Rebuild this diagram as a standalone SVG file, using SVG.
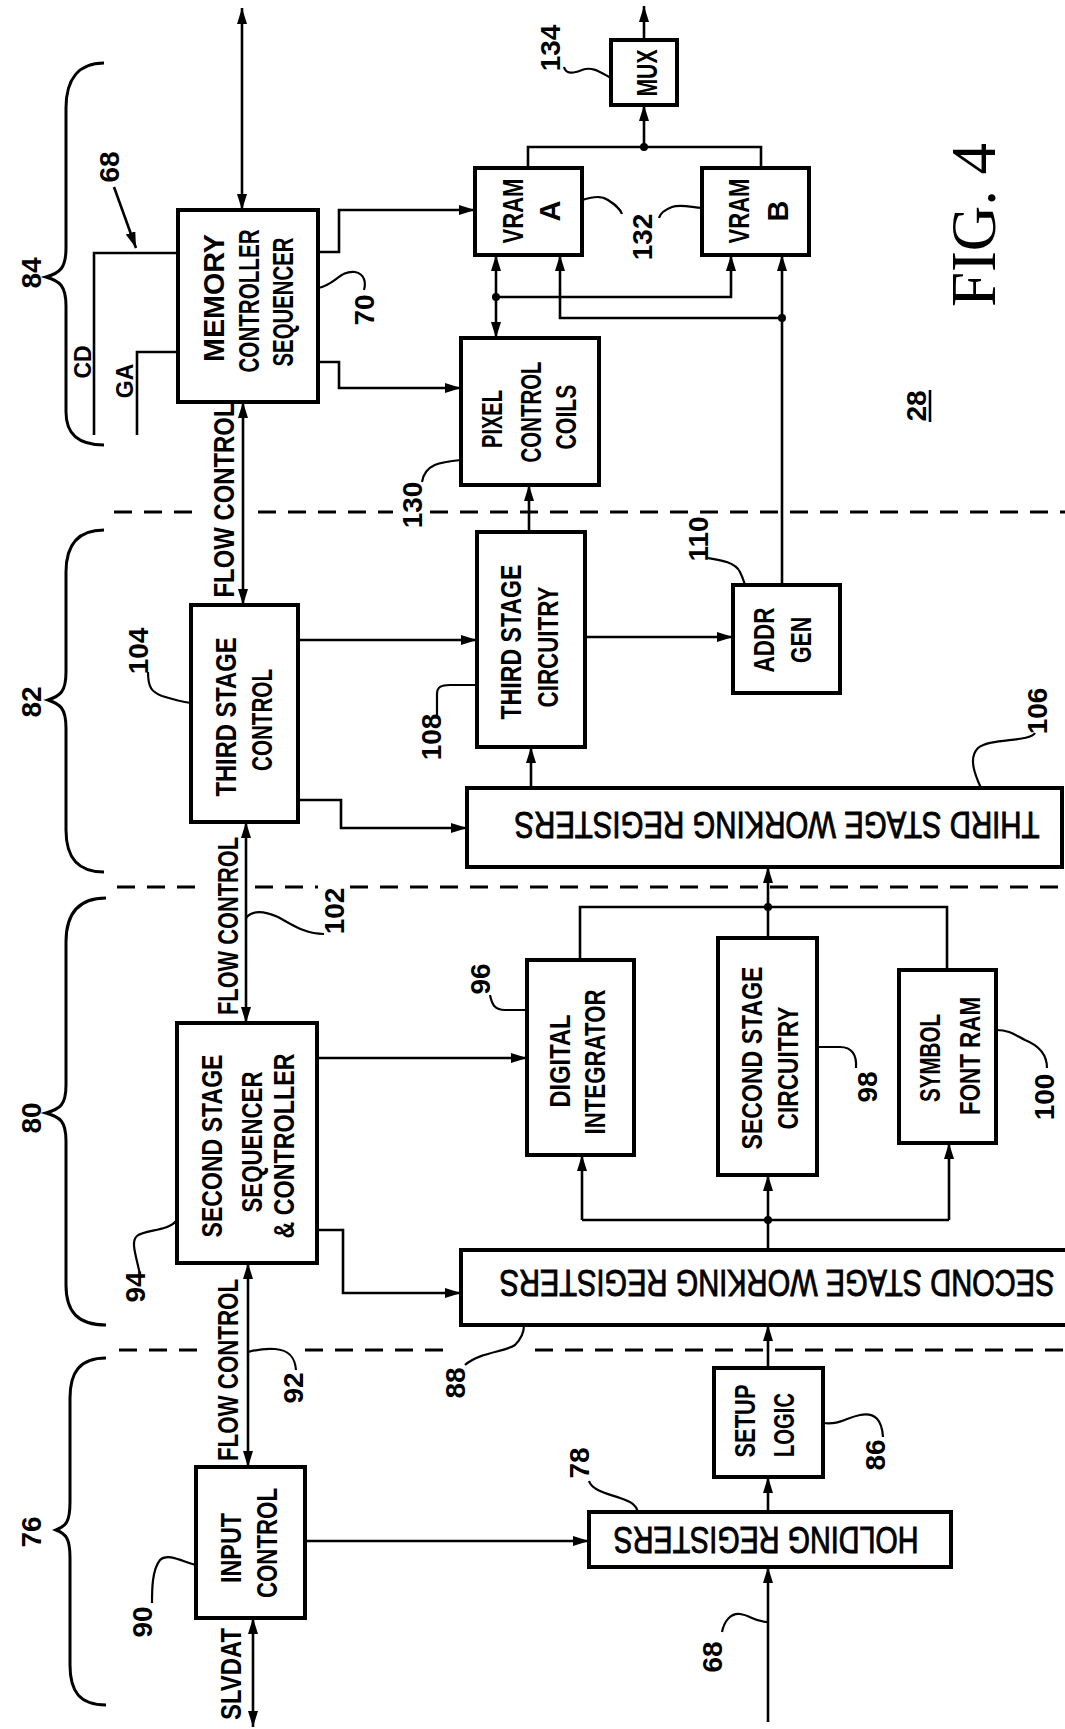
<svg xmlns="http://www.w3.org/2000/svg" width="1065" height="1729" viewBox="0 0 1065 1729">
<style>
.box{fill:#fff;stroke:#000;stroke-width:4}
.ln{fill:none;stroke:#000;stroke-width:2.6}
.ld{fill:none;stroke:#000;stroke-width:2.2}
.dash{fill:none;stroke:#000;stroke-width:3.2;stroke-dasharray:18 12}
.br{fill:none;stroke:#000;stroke-width:3}
.t{font-family:"Liberation Sans",Arial,sans-serif;font-weight:bold;font-size:29px;text-anchor:middle;fill:#000}
.n{font-family:"Liberation Sans",Arial,sans-serif;font-weight:bold;font-size:28px;text-anchor:middle;fill:#000}
.s{font-family:"Liberation Sans",Arial,sans-serif;font-weight:bold;font-size:23px;text-anchor:middle;fill:#000}
.r{font-family:"Liberation Sans",Arial,sans-serif;font-weight:normal;font-size:36px;text-anchor:middle;fill:#000;stroke:#000;stroke-width:0.9}
.fig{font-family:"Liberation Serif","Times New Roman",serif;font-size:64px;text-anchor:middle;fill:#000}
.dot{fill:#000}
</style>
<defs>
<marker id="ah" viewBox="0 0 16 10" refX="16" refY="5" markerWidth="16" markerHeight="10" markerUnits="userSpaceOnUse" orient="auto-start-reverse"><path d="M0,0 L16,5 L0,10 z" fill="#000"/></marker>
</defs>

<g id="dividers">
<path class="dash" d="M114,512 H203 M258,512 H393 M430,512 H1065"/>
<path class="dash" d="M117,887 H200 M255,887 H318 M350,887 H1065"/>
<path class="dash" d="M119,1350 H198 M305,1350 H452 M535,1350 H1065"/>
</g>

<g id="braces">
<path class="br" d="M104,63 C78,63 66,80 66,108 L66,248 C66,268 60,273 46,277 C60,281 66,286 66,306 L66,412 C66,434 78,445 104,445"/>
<path class="br" d="M104,530 C78,530 66,545 66,572 L66,672 C66,692 60,696 48,700 C60,704 66,708 66,728 L66,830 C66,858 78,872 104,872"/>
<path class="br" d="M106,898 C78,898 66,914 66,942 L66,1085 C66,1105 60,1109 46,1113 C60,1117 66,1121 66,1141 L66,1285 C66,1312 78,1325 106,1325"/>
<path class="br" d="M106,1358 C80,1358 70,1372 70,1398 L70,1502 C70,1522 66,1526 56,1530 C66,1534 70,1538 70,1558 L70,1665 C70,1692 80,1705 106,1705"/>
<text class="n" transform="translate(41,273) rotate(-90)">84</text>
<text class="n" transform="translate(41,702) rotate(-90)">82</text>
<text class="n" transform="translate(41,1118) rotate(-90)">80</text>
<text class="n" transform="translate(41,1532) rotate(-90)">76</text>
</g>

<g id="mc">
<rect class="box" x="178" y="210" width="140" height="192"/>
<text class="t" transform="translate(224,298) rotate(-90)" textLength="128" lengthAdjust="spacingAndGlyphs">MEMORY</text>
<text class="t" transform="translate(259,301) rotate(-90)" textLength="143" lengthAdjust="spacingAndGlyphs">CONTROLLER</text>
<text class="t" transform="translate(293,302) rotate(-90)" textLength="129" lengthAdjust="spacingAndGlyphs">SEQUENCER</text>
</g>
<g id="vramA">
<rect class="box" x="475" y="168" width="107" height="87"/>
<text class="t" transform="translate(523,211) rotate(-90)" textLength="65" lengthAdjust="spacingAndGlyphs">VRAM</text>
<text class="t" transform="translate(560,211) rotate(-90)">A</text>
</g>
<g id="vramB">
<rect class="box" x="702" y="168" width="107" height="87"/>
<text class="t" transform="translate(749,211) rotate(-90)" textLength="65" lengthAdjust="spacingAndGlyphs">VRAM</text>
<text class="t" transform="translate(788,211) rotate(-90)">B</text>
</g>
<g id="mux">
<rect class="box" x="611" y="40" width="66" height="65"/>
<text class="t" transform="translate(657,73) rotate(-90)" textLength="47" lengthAdjust="spacingAndGlyphs">MUX</text>
</g>
<g id="pcc">
<rect class="box" x="461" y="338" width="138" height="147"/>
<text class="t" transform="translate(502,419) rotate(-90)" textLength="58" lengthAdjust="spacingAndGlyphs">PIXEL</text>
<text class="t" transform="translate(541,412) rotate(-90)" textLength="101" lengthAdjust="spacingAndGlyphs">CONTROL</text>
<text class="t" transform="translate(576,417) rotate(-90)" textLength="65" lengthAdjust="spacingAndGlyphs">COILS</text>
</g>
<g id="tsc">
<rect class="box" x="191" y="605" width="107" height="217"/>
<text class="t" transform="translate(236,717) rotate(-90)" textLength="159" lengthAdjust="spacingAndGlyphs">THIRD STAGE</text>
<text class="t" transform="translate(272,720) rotate(-90)" textLength="102" lengthAdjust="spacingAndGlyphs">CONTROL</text>
</g>
<g id="tscirc">
<rect class="box" x="477" y="532" width="108" height="215"/>
<text class="t" transform="translate(521,642) rotate(-90)" textLength="155" lengthAdjust="spacingAndGlyphs">THIRD STAGE</text>
<text class="t" transform="translate(558,647) rotate(-90)" textLength="121" lengthAdjust="spacingAndGlyphs">CIRCUITRY</text>
</g>
<g id="addr">
<rect class="box" x="733" y="585" width="107" height="108"/>
<text class="t" transform="translate(774,640) rotate(-90)" textLength="65" lengthAdjust="spacingAndGlyphs">ADDR</text>
<text class="t" transform="translate(811,640) rotate(-90)" textLength="46" lengthAdjust="spacingAndGlyphs">GEN</text>
</g>
<g id="tswr">
<rect class="box" x="467" y="788" width="595" height="79"/>
<text class="r" transform="translate(777,812) rotate(180)" textLength="525" lengthAdjust="spacingAndGlyphs">THIRD STAGE WORKING REGISTERS</text>
</g>
<g id="sssc">
<rect class="box" x="177" y="1023" width="140" height="240"/>
<text class="t" transform="translate(222,1146) rotate(-90)" textLength="183" lengthAdjust="spacingAndGlyphs">SECOND STAGE</text>
<text class="t" transform="translate(262,1142) rotate(-90)" textLength="141" lengthAdjust="spacingAndGlyphs">SEQUENCER</text>
<text class="t" transform="translate(294,1146) rotate(-90)" textLength="185" lengthAdjust="spacingAndGlyphs">&amp; CONTROLLER</text>
</g>
<g id="di">
<rect class="box" x="527" y="960" width="107" height="195"/>
<text class="t" transform="translate(570,1061) rotate(-90)" textLength="93" lengthAdjust="spacingAndGlyphs">DIGITAL</text>
<text class="t" transform="translate(605,1062) rotate(-90)" textLength="145" lengthAdjust="spacingAndGlyphs">INTEGRATOR</text>
</g>
<g id="ssc">
<rect class="box" x="718" y="938" width="99" height="237"/>
<text class="t" transform="translate(762,1058) rotate(-90)" textLength="183" lengthAdjust="spacingAndGlyphs">SECOND STAGE</text>
<text class="t" transform="translate(798,1068) rotate(-90)" textLength="123" lengthAdjust="spacingAndGlyphs">CIRCUITRY</text>
</g>
<g id="sfr">
<rect class="box" x="899" y="970" width="97" height="173"/>
<text class="t" transform="translate(940,1058) rotate(-90)" textLength="88" lengthAdjust="spacingAndGlyphs">SYMBOL</text>
<text class="t" transform="translate(980,1056) rotate(-90)" textLength="118" lengthAdjust="spacingAndGlyphs">FONT RAM</text>
</g>
<g id="sswr">
<rect class="box" x="461" y="1250" width="612" height="75"/>
<text class="r" transform="translate(777,1270) rotate(180)" textLength="555" lengthAdjust="spacingAndGlyphs">SECOND STAGE WORKING REGISTERS</text>
</g>
<g id="sl">
<rect class="box" x="714" y="1368" width="109" height="109"/>
<text class="t" transform="translate(755,1421) rotate(-90)" textLength="73" lengthAdjust="spacingAndGlyphs">SETUP</text>
<text class="t" transform="translate(794,1425) rotate(-90)" textLength="64" lengthAdjust="spacingAndGlyphs">LOGIC</text>
</g>
<g id="hr">
<rect class="box" x="589" y="1512" width="362" height="55"/>
<text class="r" transform="translate(766,1527) rotate(180)" textLength="305" lengthAdjust="spacingAndGlyphs">HOLDING REGISTERS</text>
</g>
<g id="ic">
<rect class="box" x="196" y="1467" width="109" height="151"/>
<text class="t" transform="translate(241,1548) rotate(-90)" textLength="70" lengthAdjust="spacingAndGlyphs">INPUT</text>
<text class="t" transform="translate(277,1543) rotate(-90)" textLength="110" lengthAdjust="spacingAndGlyphs">CONTROL</text>
</g>

<g id="connectors">
<path class="ln" d="M242,8 L242,210" marker-start="url(#ah)" marker-end="url(#ah)"/>
<path class="ln" d="M114,187 L136,248" marker-end="url(#ah)"/>
<path class="ln" d="M94,435 L94,253 L178,253"/>
<path class="ln" d="M137,435 L137,352 L178,352"/>
<path class="ln" d="M318,252 L339,252 L339,210 L475,210" marker-end="url(#ah)"/>
<path class="ln" d="M318,362 L339,362 L339,388 L461,388" marker-end="url(#ah)"/>
<path class="ln" d="M496,255 L496,338" marker-start="url(#ah)" marker-end="url(#ah)"/>
<path class="ln" d="M496,297 L731,297 L731,255" marker-end="url(#ah)"/>
<path class="ln" d="M782,585 L782,255" marker-end="url(#ah)"/>
<path class="ln" d="M782,318 L560,318 L560,255" marker-end="url(#ah)"/>
<path class="ln" d="M528,168 L528,147 L761,147 L761,168"/>
<path class="ln" d="M644,147 L644,105" marker-end="url(#ah)"/>
<path class="ln" d="M644,40 L644,6" marker-end="url(#ah)"/>
<path class="ln" d="M243,402 L243,605" marker-start="url(#ah)" marker-end="url(#ah)"/>
<path class="ln" d="M298,640 L477,640" marker-end="url(#ah)"/>
<path class="ln" d="M298,800 L341,800 L341,828 L467,828" marker-end="url(#ah)"/>
<path class="ln" d="M529,532 L529,485" marker-end="url(#ah)"/>
<path class="ln" d="M585,637 L733,637" marker-end="url(#ah)"/>
<path class="ln" d="M531,788 L531,747" marker-end="url(#ah)"/>
<path class="ln" d="M246,822 L246,1023" marker-start="url(#ah)" marker-end="url(#ah)"/>
<path class="ln" d="M317,1058 L527,1058" marker-end="url(#ah)"/>
<path class="ln" d="M317,1230 L343,1230 L343,1293 L461,1293" marker-end="url(#ah)"/>
<path class="ln" d="M580,960 L580,907 L947,907 L947,970 M768,938 L768,907"/>
<path class="ln" d="M768,907 L768,867" marker-end="url(#ah)"/>
<path class="ln" d="M768,1250 L768,1220 M582,1220 L949,1220"/>
<path class="ln" d="M582,1220 L582,1155" marker-end="url(#ah)"/>
<path class="ln" d="M768,1220 L768,1175" marker-end="url(#ah)"/>
<path class="ln" d="M949,1220 L949,1143" marker-end="url(#ah)"/>
<path class="ln" d="M248,1263 L248,1467" marker-start="url(#ah)" marker-end="url(#ah)"/>
<path class="ln" d="M768,1368 L768,1325" marker-end="url(#ah)"/>
<path class="ln" d="M768,1512 L768,1477" marker-end="url(#ah)"/>
<path class="ln" d="M305,1541 L589,1541" marker-end="url(#ah)"/>
<path class="ln" d="M253,1618 L253,1727" marker-start="url(#ah)" marker-end="url(#ah)"/>
<path class="ln" d="M768,1722 L768,1567" marker-end="url(#ah)"/>
<circle class="dot" cx="496" cy="297" r="4"/>
<circle class="dot" cx="782" cy="318" r="4"/>
<circle class="dot" cx="644" cy="147" r="4"/>
<circle class="dot" cx="768" cy="907" r="4"/>
<circle class="dot" cx="768" cy="1220" r="4"/>
</g>

<g id="leaders">
<path class="ld" d="M318,288 C335,285 340,270 355,272 C365,274 366,283 364,290"/>
<path class="ld" d="M461,460 C440,462 425,464 422,482"/>
<path class="ld" d="M611,78 C600,72 592,66 582,70 C572,74 566,74 564,67"/>
<path class="ld" d="M582,200 C595,196 602,196 608,200 C614,204 620,208 622,214"/>
<path class="ld" d="M702,208 C690,207 680,204 672,207 C664,210 660,214 659,218"/>
<path class="ld" d="M148,672 C148,688 152,692 162,696 C175,700 184,702 191,703"/>
<path class="ld" d="M437,718 L437,694 C437,687 441,685 450,685 L477,685"/>
<path class="ld" d="M708,558 C720,560 735,562 740,572 C743,578 744,582 745,585"/>
<path class="ld" d="M1035,733 C1030,742 990,738 978,748 C968,758 975,775 981,788"/>
<path class="ld" d="M246,918 C252,910 262,910 278,917 C293,925 305,934 324,934"/>
<path class="ld" d="M490,995 C492,1005 495,1010 505,1010 L527,1010"/>
<path class="ld" d="M817,1047 L840,1047 C852,1047 857,1055 856,1068"/>
<path class="ld" d="M996,1030 C1010,1030 1015,1035 1025,1040 C1040,1046 1047,1055 1047,1068"/>
<path class="ld" d="M140,1275 C137,1258 130,1242 137,1236 C145,1229 168,1232 177,1220"/>
<path class="ld" d="M248,1352 C255,1350 262,1348 275,1349 C290,1350 295,1358 296,1370"/>
<path class="ld" d="M465,1365 C480,1352 505,1352 515,1345 C522,1338 524,1330 524,1325"/>
<path class="ld" d="M823,1423 C840,1425 845,1418 860,1415 C875,1412 882,1420 883,1437"/>
<path class="ld" d="M589,1481 C592,1490 605,1493 620,1498 C632,1502 636,1505 638,1512"/>
<path class="ld" d="M152,1603 C152,1590 152,1570 160,1560 C168,1552 185,1563 196,1565"/>
<path class="ld" d="M722,1632 C724,1622 730,1613 740,1614 C750,1615 755,1622 768,1622"/>
</g>

<g id="labels">
<text class="t" transform="translate(234,500) rotate(-90)" textLength="195" lengthAdjust="spacingAndGlyphs">FLOW CONTROL</text>
<text class="t" transform="translate(238,926) rotate(-90)" textLength="178" lengthAdjust="spacingAndGlyphs">FLOW CONTROL</text>
<text class="t" transform="translate(238,1370) rotate(-90)" textLength="182" lengthAdjust="spacingAndGlyphs">FLOW CONTROL</text>
<text class="t" transform="translate(241,1674) rotate(-90)" textLength="92" lengthAdjust="spacingAndGlyphs">SLVDAT</text>
<text class="s" transform="translate(91,362) rotate(-90)">CD</text>
<text class="s" transform="translate(133,381) rotate(-90)">GA</text>
<text class="n" transform="translate(119,167) rotate(-90)">68</text>
<text class="n" transform="translate(374,310) rotate(-90)">70</text>
<text class="n" transform="translate(422,505) rotate(-90)">130</text>
<text class="n" transform="translate(560,48) rotate(-90)">134</text>
<text class="n" transform="translate(652,237) rotate(-90)">132</text>
<text class="n" transform="translate(926,406) rotate(-90)">28</text>
<path class="ln" d="M930,390 L930,422"/>
<text class="n" transform="translate(148,651) rotate(-90)">104</text>
<text class="n" transform="translate(441,737) rotate(-90)">108</text>
<text class="n" transform="translate(708,539) rotate(-90)">110</text>
<text class="n" transform="translate(1047,711) rotate(-90)">106</text>
<text class="n" transform="translate(344,911) rotate(-90)">102</text>
<text class="n" transform="translate(490,979) rotate(-90)">96</text>
<text class="n" transform="translate(877,1087) rotate(-90)">98</text>
<text class="n" transform="translate(1054,1097) rotate(-90)">100</text>
<text class="n" transform="translate(145,1287) rotate(-90)">94</text>
<text class="n" transform="translate(303,1388) rotate(-90)">92</text>
<text class="n" transform="translate(465,1383) rotate(-90)">88</text>
<text class="n" transform="translate(885,1455) rotate(-90)">86</text>
<text class="n" transform="translate(589,1463) rotate(-90)">78</text>
<text class="n" transform="translate(152,1622) rotate(-90)">90</text>
<text class="n" transform="translate(722,1657) rotate(-90)">68</text>
<text class="fig" transform="translate(995,225) rotate(-90)" textLength="164" lengthAdjust="spacingAndGlyphs">FIG. 4</text>
</g>
</svg>
